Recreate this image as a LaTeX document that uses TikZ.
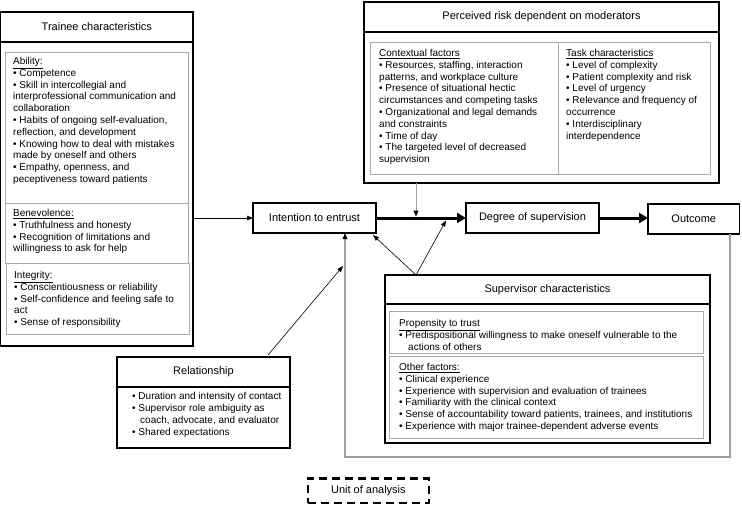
\documentclass[tikz,border=0pt]{standalone}
\usepackage{fontspec}
\setmainfont{Liberation Sans}
\usetikzlibrary{arrows.meta}
\definecolor{secgray}{RGB}{170,170,170}
\definecolor{fbgray}{RGB}{160,160,160}
\begin{document}
\begin{tikzpicture}[x=1pt,y=-1pt,
  box/.style={draw, line width=1.4pt, inner sep=0pt, outer sep=0pt, anchor=north west, font=\fontsize{11}{13}\selectfont},
  section/.style={draw=secgray, line width=0.8pt, inner sep=0pt, outer sep=0pt, anchor=north west},
  body/.style={anchor=north west, inner sep=0pt, align=left, font=\fontsize{10}{11.8}\selectfont},
  arr/.style={-{Triangle[length=6pt,width=4.5pt]}, line width=0.6pt},
  thickarr/.style={-{Triangle[length=9pt,width=10pt]}, line width=3pt},
  fb/.style={draw=fbgray, line width=1.2pt},
  unitbox/.style={draw, line width=2.8pt, dash pattern=on 8pt off 5pt, inner sep=0pt, anchor=north west, font=\fontsize{11}{13}\selectfont}
]
\useasboundingbox (0,0) rectangle (742,504);

% Trainee characteristics
\node[box, minimum width=192.3pt, minimum height=30pt] (trT) at (0.7,12) {Trainee characteristics};
\node[box, minimum width=192.3pt, minimum height=304pt] (trB) at (0.7,42) {};
\node[section, minimum width=183pt, minimum height=151pt] (ability) at (5,52) {};
\node[section, minimum width=183pt, minimum height=60pt] (benev) at (5,203) {};
\node[section, minimum width=183pt, minimum height=71pt] (integ) at (6,263) {};
\node[body] (abilityT) at (13,57) {\underline{Ability:}\\
• Competence\\
• Skill in intercollegial and\\
interprofessional communication and\\
collaboration\\
• Habits of ongoing self-evaluation,\\
reflection, and development\\
• Knowing how to deal with mistakes\\
made by oneself and others\\
• Empathy, openness, and\\
peceptiveness toward patients};
\node[body] (benevT) at (13,209) {\underline{Benevolence:}\\
• Truthfulness and honesty\\
• Recognition of limitations and\\
willingness to ask for help};
\node[body] (integT) at (14,271) {\underline{Integrity:}\\
• Conscientiousness or reliability\\
• Self-confidence and feeling safe to\\
act\\
• Sense of responsibility};

% Perceived risk
\node[box, minimum width=355pt, minimum height=30pt] (rkT) at (364,2) {Perceived risk dependent on moderators};
\node[box, minimum width=355pt, minimum height=151pt] (rkB) at (364,32) {};
\node[section, minimum width=188pt, minimum height=132pt] (ctx) at (370,42) {};
\node[section, minimum width=152pt, minimum height=132pt] (task) at (558,42) {};
\node[body] (ctxT) at (379,49) {\underline{Contextual factors}\\
• Resources, staffing, interaction\\
patterns, and workplace culture\\
• Presence of situational hectic\\
circumstances and competing tasks\\
• Organizational and legal demands\\
and constraints\\
• Time of day\\
• The targeted level of decreased\\
supervision};
\node[body] (taskT) at (566,49) {\underline{Task characteristics}\\
• Level of complexity\\
• Patient complexity and risk\\
• Level of urgency\\
• Relevance and frequency of\\
occurrence\\
• Interdisciplinary\\
interdependence};

% Main chain
\node[box, minimum width=123pt, minimum height=30pt] (intent) at (253,203) {Intention to entrust};
\node[box, minimum width=133pt, minimum height=30pt] (degree) at (466,203) {Degree of supervision};
\node[box, minimum width=91.5pt, minimum height=30pt] (outcome) at (648,204) {Outcome};

% Supervisor characteristics
\node[box, minimum width=325pt, minimum height=29pt] (supT) at (385,275) {Supervisor characteristics};
\node[box, minimum width=325pt, minimum height=139pt] (supB) at (385,304) {};
\node[section, minimum width=314pt, minimum height=42pt] (prop) at (389,311) {};
\node[section, minimum width=314pt, minimum height=82pt] (other) at (389,356) {};
\node[body] (propT) at (399,319) {\underline{Propensity to trust}\\
• Predispositional willingness to make oneself vulnerable to the\\
\hspace*{9pt}actions of others};
\node[body] (otherT) at (399,363) {\underline{Other factors:}\\
• Clinical experience\\
• Experience with supervision and evaluation of trainees\\
• Familiarity with the clinical context\\
• Sense of accountability toward patients, trainees, and institutions\\
• Experience with major trainee-dependent adverse events};

% Relationship
\node[box, minimum width=173pt, minimum height=30pt] (relT) at (117,357) {Relationship};
\node[box, minimum width=173pt, minimum height=61pt] (relB) at (117,387) {};
\node[body] (relTx) at (132,392.5) {• Duration and intensity of contact\\
• Supervisor role ambiguity as\\
\hspace*{8pt}coach, advocate, and evaluator\\
• Shared expectations};

% Unit of analysis
\node[unitbox, minimum width=121pt, minimum height=24.5pt] (unit) at (306.5,477) {Unit of analysis};

% Connectors
\coordinate (riskhit) at (416,216.5);
\coordinate (supfrom) at (416,275);
\coordinate (suphit) at (446,220.5);
\coordinate (relhit) at (343,266);
\coordinate (fbR) at (730,457);
\coordinate (fbL) at (345,457);

\draw[fb, -{Triangle[length=6pt,width=4.5pt,color=black]}] (outcome.south -| fbR) -- (fbR) -- (fbL) -- (intent.south -| fbL);
\draw[arr] (intent.west -| trB.east) -- (intent.west);
\draw[thickarr] (intent.east) -- (degree.west);
\draw[thickarr] (degree.east) -- (degree.east -| outcome.west);
\draw[fb, line width=1pt, -{Triangle[length=6pt,width=5pt,color=black]}] (rkB.south -| riskhit) -- (riskhit);
\draw[arr] (supfrom) -- ([xshift=-3pt,yshift=-2pt]intent.south east);
\draw[arr] (supfrom) -- (suphit);
\draw[arr] ([xshift=-22pt,yshift=2pt]relT.north east) -- (relhit);
\end{tikzpicture}
\end{document}
